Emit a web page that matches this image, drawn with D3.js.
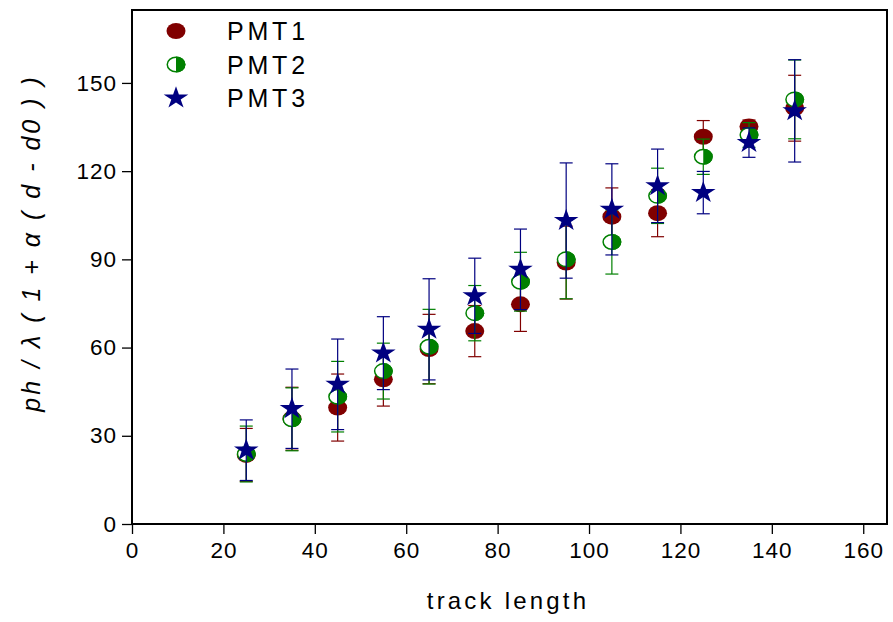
<!DOCTYPE html>
<html><head><meta charset="utf-8">
<script src="https://cdn.jsdelivr.net/npm/d3@7"></script>
<style>
html,body{margin:0;padding:0;background:#fff;}
svg{display:block;font-family:"Liberation Sans",Arial,sans-serif;}
</style></head>
<body>
<svg id="chart" width="893" height="622"></svg>
<script>
const trackLength = [25,35,45,55,65,75,85,95,105,115,125,135,145];
const pmt1 = [23.5,35.8,39.6,49.2,59.5,65.6,74.7,88.9,104.5,105.7,131.7,135.2,141.4];
const pmt1Err = [9,10.7,11.4,9.1,11.8,8.7,9.2,12.4,9.8,8,5.5,2.2,11.2];
const pmt2 = [23.8,35.6,43.3,52.0,60.3,71.7,82.4,90.0,95.9,111.6,124.9,132.3,144.4];
const pmt2Err = [9.5,10.7,12,9.5,12.7,9.4,10,13.4,10.9,9.4,6,4.2,13.4];
const pmt3 = [25.1,39.2,47.5,58.1,66.2,77.6,86.6,103.2,107.0,115.0,112.7,129.7,140.5];
const pmt3Err = [10.3,13.5,15.4,12.4,17.2,12.8,13.7,19.6,15.5,12.5,7.2,5,17.4];
const seriesNames = ["PMT1","PMT2","PMT3"];
const xTicks = [0,20,40,60,80,100,120,140,160];
const yTicks = [0,30,60,90,120,150];
const xTitle = "track length";
const yTitle = "ph / \u03BB ( 1 + \u03B1 ( d - d0 ) )";

const colors = ["#800000","#008000","#000080"];
const W = 893, H = 622;
const m = {left:132, top:10, right:6, bottom:98};
const svg = d3.select("#chart");
const x = d3.scaleLinear().domain([0,165.2]).range([m.left, W-m.right]);
const y = d3.scaleLinear().domain([0,174.8]).range([H-m.bottom, m.top]);

const series = [
  {name:seriesNames[0], vals:pmt1, err:pmt1Err, color:colors[0], kind:"filled"},
  {name:seriesNames[1], vals:pmt2, err:pmt2Err, color:colors[1], kind:"half"},
  {name:seriesNames[2], vals:pmt3, err:pmt3Err, color:colors[2], kind:"star"}
];

// axes
const xAxis = svg.append("g").attr("transform",`translate(0,${H-m.bottom})`)
  .call(d3.axisBottom(x).tickValues(xTicks).tickSize(10).tickPadding(8).tickFormat(d3.format("d")));
const yAxis = svg.append("g").attr("transform",`translate(${m.left},0)`)
  .call(d3.axisLeft(y).tickValues(yTicks).tickSize(10).tickPadding(5).tickFormat(d3.format("d")));
[xAxis,yAxis].forEach(a=>{
  a.select(".domain").remove();
  a.selectAll(".tick line").attr("stroke","#000").attr("stroke-width",1.3);
  a.selectAll(".tick text").attr("fill","#000").style("font-size","22.5px")
   .style("font-family","'Liberation Sans',Arial,sans-serif").style("letter-spacing","1px");
});

// frame
svg.append("rect").attr("x",x(0)).attr("y",y(174.8))
  .attr("width",x(165.2)-x(0)).attr("height",y(0)-y(174.8))
  .attr("fill","none").attr("stroke","#000").attr("stroke-width",2);

const rx = 9.5, ry = 8;
function drawMarker(g, kind, color){
  if(kind==="filled"){
    g.append("ellipse").attr("rx",rx).attr("ry",ry).attr("fill",color);
  } else if(kind==="half"){
    g.append("ellipse").attr("rx",rx-0.75).attr("ry",ry-0.75).attr("fill","#fff")
      .attr("stroke",color).attr("stroke-width",1.5);
    g.append("path").attr("d",`M0,${-ry} A${rx},${ry} 0 0 1 0,${ry} Z`).attr("fill",color);
  } else {
    g.append("path").attr("d",d3.symbol(d3.symbolStar, 170)()).attr("fill",color)
      .attr("transform","scale(1.05,0.95)");
  }
}

const cap = 6.5;
series.forEach(s=>{
  const g = svg.append("g");
  trackLength.forEach((t,i)=>{
    const cx = x(t), v = s.vals[i], e = s.err[i];
    const y1 = y(v+e), y2 = y(v-e);
    g.append("line").attr("x1",cx).attr("x2",cx).attr("y1",y1).attr("y2",y2)
      .attr("stroke",s.color).attr("stroke-width",1.2);
    [y1,y2].forEach(yy=>g.append("line").attr("x1",cx-cap).attr("x2",cx+cap)
      .attr("y1",yy).attr("y2",yy).attr("stroke",s.color).attr("stroke-width",1.2));
  });
  trackLength.forEach((t,i)=>{
    const mg = g.append("g").attr("transform",`translate(${x(t)},${y(s.vals[i])})`);
    drawMarker(mg, s.kind, s.color);
  });
});

// legend
const leg = svg.append("g");
series.forEach((s,i)=>{
  const ly = 31 + i*33.5;
  const mg = leg.append("g").attr("transform",`translate(176,${ly})`);
  drawMarker(mg, s.kind, s.color);
  leg.append("text").attr("x",227).attr("y",ly+9).text(s.name)
    .style("font-size","25px").style("letter-spacing","3.8px").attr("fill","#000");
});

// titles
svg.append("text").attr("x",508).attr("y",609).attr("text-anchor","middle")
  .style("font-size","24px").style("letter-spacing","3.2px").text(xTitle);
svg.append("text").attr("transform","translate(40,243) rotate(-90)")
  .attr("text-anchor","middle").style("font-size","25px").style("font-style","italic")
  .style("letter-spacing","3px").text(yTitle);
</script>
</body></html>
